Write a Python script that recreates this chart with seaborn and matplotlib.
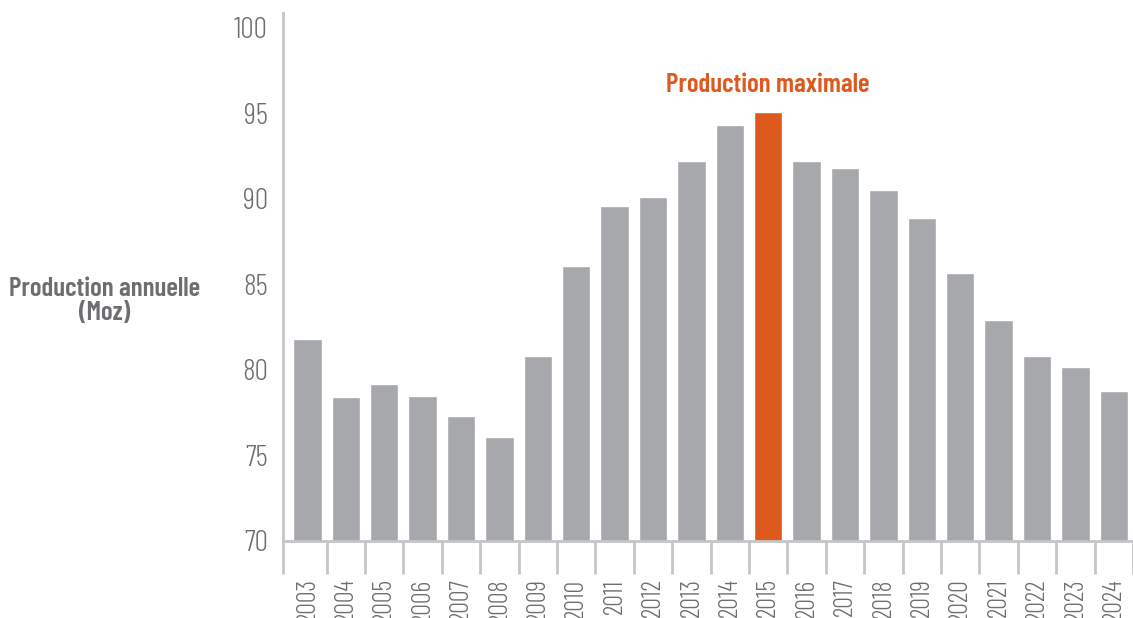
import matplotlib
matplotlib.use("Agg")
import matplotlib.pyplot as plt
import numpy as np
import seaborn as sns
import pandas as pd

years = [str(y) for y in range(2003, 2025)]
production = [81.8, 78.4, 79.2, 78.5, 77.3, 76.1, 80.8, 86.1, 89.6, 90.1, 92.2,
              94.3, 95.1, 92.2, 91.8, 90.5, 88.9, 85.7, 82.9, 80.8, 80.2, 78.8]
peak_year = "2015"
peak_label = "Production maximale"
ylabel_txt = "Production annuelle\n(Moz)"
yticks = [70, 75, 80, 85, 90, 95, 100]

GREY = "#a7a8ab"
ORANGE = "#dc5a1e"
TEXT = "#6d6e71"
AXIS = "#c4c5c7"

def main():
	sns.set_style("white")
	plt.rcParams['font.family'] = ['Barlow Condensed', 'DejaVu Sans']

	df = pd.DataFrame({"year": years, "production": production})
	palette = {y: (ORANGE if y == peak_year else GREY) for y in years}

	fig = plt.figure(figsize=(11.33, 6.18), dpi=100)
	ax = fig.add_axes([0.25, 0.1246, 0.75, 0.855])
	sns.barplot(data=df, x="year", y="production", hue="year", palette=palette,
				width=0.74, legend=False, saturation=1, ax=ax)

	ax.set_ylim(70, 100.9)
	ax.set_xlim(-0.63, 21.46)
	ax.set_yticks(yticks)
	ax.set_yticklabels([str(v) for v in yticks], fontsize=21.5, color=TEXT, fontweight=300)
	ax.tick_params(axis="y", length=0, pad=11)

	# labels under the bars, tick marks on the boundaries
	ax.set_xticks(np.arange(len(years)))
	ax.set_xticklabels(years, rotation=90, fontsize=19, color=TEXT, fontweight=300, va="top")
	ax.tick_params(axis="x", which="major", length=0, pad=27)
	ax.set_xticks([-0.63] + [i - 0.5 for i in range(1, len(years) + 1)], minor=True)
	ax.tick_params(axis="x", which="minor", bottom=True, length=24, width=2, color=AXIS)

	for side in ["top", "right"]:
		ax.spines[side].set_visible(False)
	for side in ["left", "bottom"]:
		ax.spines[side].set_color(AXIS)
		ax.spines[side].set_linewidth(2)

	ax.set_xlabel("")
	ax.set_ylabel("")
	fig.text(0.0925, 0.513, ylabel_txt, ha="center", va="center", fontsize=19.5,
			 fontweight=600, color=TEXT, linespacing=1.0)

	peak_idx = years.index(peak_year)
	ax.text(peak_idx, 96.65, peak_label, ha="center", va="center", fontsize=19.5,
			fontweight=600, color=ORANGE)

	plt.savefig("out.png", dpi=100)

if __name__ == "__main__":
	main()
